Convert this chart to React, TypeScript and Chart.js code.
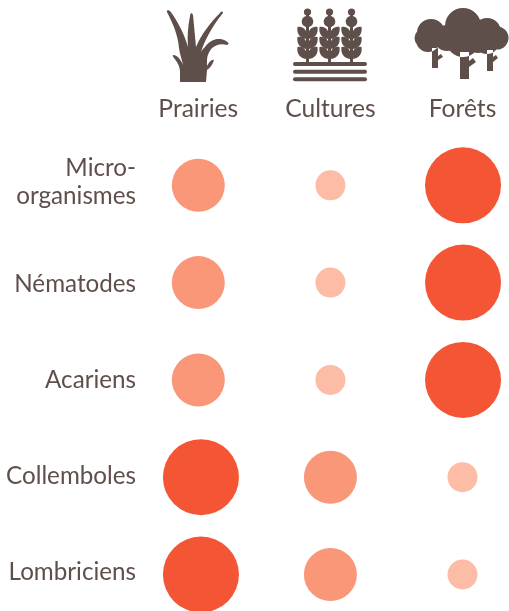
import React, { useEffect, useRef } from "react";
import { Chart, registerables } from "chart.js";

Chart.register(...registerables);

const habitats = ["Prairies", "Cultures", "Forêts"];
const taxa: (string | string[])[] = [["Micro-", "organismes"], "Nématodes", "Acariens", "Collemboles", "Lombriciens"];
const taxaLabelRows = [-0.035, 0.012, 0, -0.012, -0.02];
const prairies = [26.5, 26.5, 26.5, 38, 38];
const cultures = [15, 15, 15, 26.5, 26.5];
const forets = [38, 38, 38, 15, 15];
const prairiesX = [0, 0, 0, 0.02, 0.02];
const culturesX = [1, 1, 1, 1, 1];
const foretsX = [2.004, 2.004, 2.004, 2, 2];
const columns = [prairies, cultures, forets];
const columnsX = [prairiesX, culturesX, foretsX];
const BROWN = "#5f4f4b";
const colourFor = (r: number) => (r > 30 ? "#f45635" : r > 20 ? "#f99778" : "#fdbca6");

const ICON_GRASS =
  "M168 10 C166 11 167 12 168 14 C174 26 178 36 179 48 C180 55 182 60 183 65 C181 60 178 56 174 55 C172 55 173 57 174 58 C177 62 180 66 180 72 L180 82 L206 82 L207 70 C210 68 213 64 214 60 C212 59 209 62 207 66 C207 60 207 57 208 55 C210 48 217 42 227 45 C230 44 228 42 226 41 C219 37 211 39 205 47 C203 49 202 50 201 52 C204 42 212 26 223 13 C223 11 221 11 220 13 C210 23 201 35 196 47 C195 36 194 25 193 15 C192 12 190 13 190 16 C188 26 187 37 188 47 C184 33 177 20 170 11 Z";

const treeCircles = [
  [431, 33, 14], [424, 38, 9.5], [428, 40, 12], [447, 38, 13],
  [463, 26, 18], [463, 40, 17], [478, 40, 13], [487, 32, 14],
  [497, 38, 11.5], [487, 42, 12],
];
const treeTrunks = [
  [[432, 48], [432, 68], [438, 68], [438, 60], [443, 57], [441, 54], [438, 56], [438, 48]],
  [[460, 52], [460, 79], [469, 79], [469, 67], [476, 62], [473, 58], [469, 61], [469, 52]],
  [[487, 50], [487, 71], [493, 71], [493, 62], [498, 58], [496, 55], [493, 57], [493, 50]],
];

const iconPlugin = {
  id: "icons",
  afterDraw(chart: any) {
    const { ctx, scales } = chart;
    const dx0 = scales.x.getPixelForValue(0) - 198.3;
    ctx.save();
    ctx.translate(dx0, 0);
    ctx.fillStyle = BROWN;
    ctx.strokeStyle = BROWN;

    ctx.fill(new Path2D(ICON_GRASS));

    [307.5, 329.5, 351.5].forEach((x) => {
      ctx.lineWidth = 3;
      ctx.lineCap = "butt";
      ctx.beginPath(); ctx.moveTo(x, 14); ctx.lineTo(x, 64); ctx.stroke();
      ctx.beginPath(); ctx.arc(x, 12, 3.6, 0, Math.PI * 2); ctx.fill();
      ctx.beginPath(); ctx.arc(x, 21.5, 5.8, 0, Math.PI * 2); ctx.fill();
      [32, 42, 52].forEach((y) => {
        [-1, 1].forEach((s) => {
          ctx.beginPath();
          ctx.moveTo(x, y + 7);
          ctx.bezierCurveTo(x + s * 8, y + 7, x + s * 11, y + 1, x + s * 10, y - 5);
          ctx.bezierCurveTo(x + s * 5, y - 6, x, y - 3, x, y + 7);
          ctx.fill();
        });
      });
    });
    ctx.lineCap = "round";
    ctx.lineWidth = 4;
    [64, 71.7, 79.3].forEach((y) => {
      ctx.beginPath(); ctx.moveTo(295, y); ctx.lineTo(365, y); ctx.stroke();
    });

    ctx.beginPath();
    treeCircles.forEach(([x, y, r]) => {
      ctx.moveTo(x + r, y);
      ctx.arc(x, y, r, 0, Math.PI * 2);
    });
    treeTrunks.forEach((pts) => {
      pts.forEach(([x, y], i) => (i ? ctx.lineTo(x, y) : ctx.moveTo(x, y)));
      ctx.closePath();
    });
    ctx.fill("nonzero");
    ctx.restore();
  },
};

export default function App() {
  const ref = useRef<HTMLCanvasElement>(null);
  useEffect(() => {
    document.body.style.margin = "0";
    const chart = new Chart(ref.current!, {
      type: "bubble",
      data: {
        datasets: columns.map((col, i) => ({
          label: habitats[i],
          data: col.map((r, j) => ({ x: columnsX[i][j], y: j, r })),
          backgroundColor: col.map(colourFor),
          borderWidth: 0,
          clip: false as any,
        })),
      },
      options: {
        animation: false,
        responsive: false,
        layout: { padding: 0, autoPadding: false },
        plugins: { legend: { display: false }, tooltip: { enabled: false } },
        scales: {
          x: {
            type: "linear",
            position: "top",
            min: -0.4035,
            max: 2.352,
            afterFit: (s: any) => { s.height = 125; s.paddingLeft = 0; s.paddingRight = 0; },
            afterBuildTicks: (s: any) => { s.ticks = habitats.map((_, i) => ({ value: i })); },
            grid: { display: false, drawTicks: false },
            border: { display: false },
            ticks: {
              autoSkip: false, maxRotation: 0, padding: 1, color: BROWN,
              font: { family: "Lato", size: 24.6 },
              callback: (_: any, i: number) => habitats[i],
            },
          },
          y: {
            type: "linear",
            reverse: true,
            min: -0.62,
            max: 4.375,
            afterFit: (s: any) => { s.width = 145; s.paddingTop = 0; s.paddingBottom = 0; },
            afterBuildTicks: (s: any) => { s.ticks = taxaLabelRows.map((d, i) => ({ value: i + d })); },
            grid: { display: false, drawTicks: false },
            border: { display: false },
            ticks: {
              autoSkip: false, padding: 9, color: BROWN,
              font: { family: "Lato", size: 24.2, lineHeight: 1.17 },
              callback: (_: any, i: number) => taxa[i] as any,
            },
          },
        },
      },
      plugins: [iconPlugin],
    });
    return () => chart.destroy();
  }, []);
  return <canvas ref={ref} width={509} height={611} style={{ display: "block" }} />;
}
